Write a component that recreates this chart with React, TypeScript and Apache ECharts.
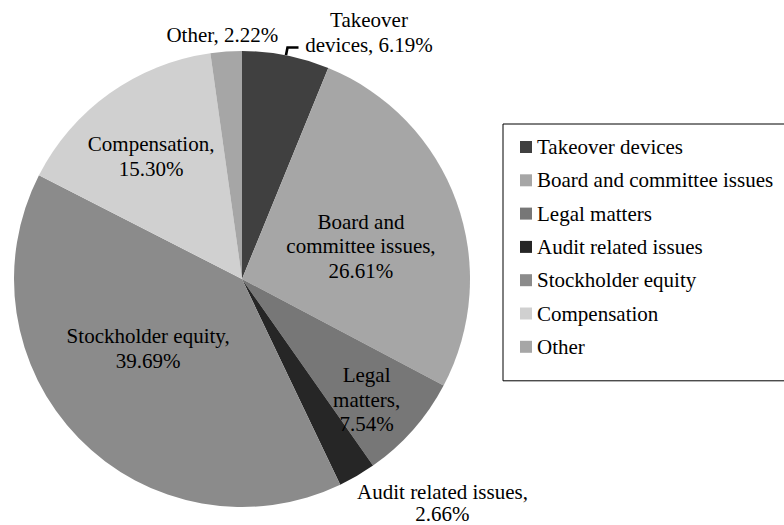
import React, { useEffect, useRef } from "react";
import * as echarts from "echarts";

const categories = [
  "Takeover devices",
  "Board and committee issues",
  "Legal matters",
  "Audit related issues",
  "Stockholder equity",
  "Compensation",
  "Other",
];
const values = [6.19, 26.61, 7.54, 2.66, 39.69, 15.3, 2.22];
const labelTemplates = [
  "Takeover\ndevices, {v}",
  "Board and\ncommittee issues,\n{v}",
  "Legal\nmatters,\n{v}",
  "Audit related issues,\n{v}",
  "Stockholder equity,\n{v}",
  "Compensation,\n{v}",
  "Other, {v}",
];
const colors = ["#404040", "#a6a6a6", "#777777", "#262626", "#8b8b8b", "#d0d0d0", "#a6a6a6"];

// label placement styling: where each label sits and how far it is nudged
const labelPlacement = ["leader", "inside", "free", "free", "inside", "inside", "free"];
const labelShift: (number[] | null)[] = [
  null,
  [9, 7],
  [-85, -30],
  [-5, 27],
  [-10, -12],
  [-23, -27],
  [57, -17],
];
const labelLineHeights = [24.5, 24.5, 24.5, 22, 24.5, 24.5, 24.5];

const FONT = "'Liberation Serif', 'Times New Roman', serif";

export default function App() {
  const ref = useRef<HTMLDivElement>(null);
  useEffect(() => {
    document.body.style.margin = "0";
    if (!ref.current) return;
    const chart = echarts.init(ref.current, null, { renderer: "svg" });
    const fmt = (i: number, v: number) => labelTemplates[i].replace("{v}", v.toFixed(2) + "%");
    const data = categories.map((name, i) => {
      const item: any = {
        name,
        value: values[i],
        itemStyle: { color: colors[i] },
      };
      const mode = labelPlacement[i];
      if (mode === "leader") {
        item.label = {
          position: "outside",
          padding: [0, 0, 30, 0],
          formatter: (p: any) =>
            fmt(p.dataIndex, p.value)
              .split("\n")
              .map((s: string) => "{a|" + s + "}")
              .join("\n"),
          rich: {
            a: {
              width: 131,
              align: "center",
              fontFamily: FONT,
              fontSize: 21,
              lineHeight: labelLineHeights[i],
              color: "#000",
            },
          },
        };
        item.labelLine = {
          show: true,
          length: 8,
          length2: 11,
          lineStyle: { color: "#000", width: 2.6 },
        };
      } else if (mode === "inside") {
        item.label = { position: "inside", lineHeight: labelLineHeights[i] };
        item.labelLine = { show: false };
      } else {
        item.label = { position: "outside", lineHeight: labelLineHeights[i] };
        item.labelLine = { show: false, length: 0, length2: 0 };
      }
      return item;
    });
    chart.setOption({
      animation: false,
      backgroundColor: "#fff",
      legend: {
        orient: "vertical",
        left: 503,
        top: 124,
        padding: [12.5, 13, 23.5, 17],
        itemGap: 12.3,
        itemWidth: 12,
        itemHeight: 12,
        icon: "rect",
        borderColor: "#000",
        borderWidth: 1,
        borderRadius: 0,
        data: categories,
        textStyle: {
          fontFamily: FONT,
          fontSize: 21,
          lineHeight: 21,
          color: "#000",
        },
        selectedMode: false,
      },
      series: [
        {
          type: "pie",
          center: [242, 279],
          radius: 228,
          startAngle: 90,
          clockwise: true,
          avoidLabelOverlap: false,
          silent: true,
          data,
          label: {
            show: true,
            fontFamily: FONT,
            fontSize: 21,
            lineHeight: 24.5,
            color: "#000",
            formatter: (p: any) => fmt(p.dataIndex, p.value),
          },
          labelLayout: (p: any) => {
            const s = labelShift[p.dataIndex];
            if (!s) return {};
            const r = p.labelRect;
            return {
              x: r.x + r.width / 2 + s[0],
              y: r.y + r.height / 2 + s[1],
              align: "center",
              verticalAlign: "middle",
            };
          },
          itemStyle: { borderWidth: 0 },
        },
      ],
    });
    return () => chart.dispose();
  }, []);
  return <div ref={ref} style={{ width: 784, height: 525 }} />;
}
